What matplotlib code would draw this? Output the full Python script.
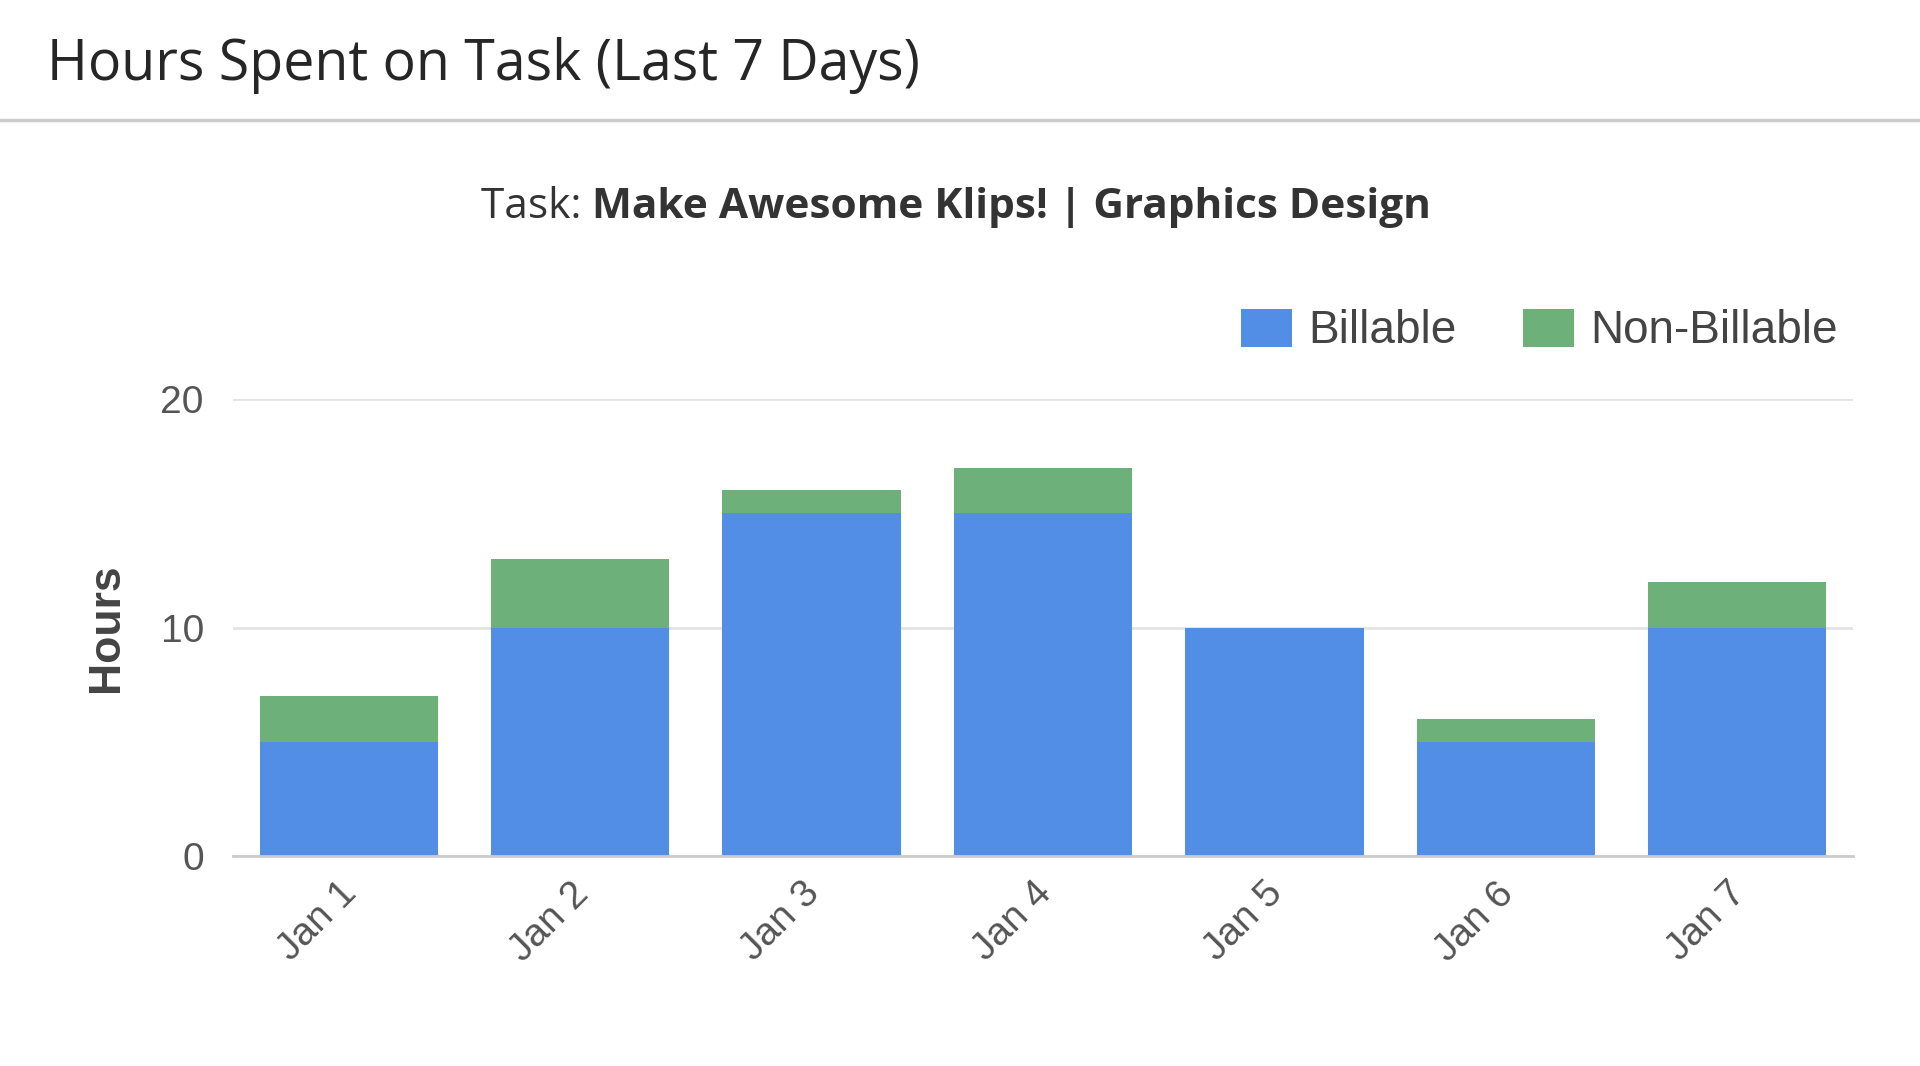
import matplotlib
matplotlib.use("Agg")
import matplotlib.pyplot as plt
from matplotlib.patches import Patch
from matplotlib.lines import Line2D
from matplotlib.transforms import ScaledTranslation
import numpy as np

days = ["Jan 1", "Jan 2", "Jan 3", "Jan 4", "Jan 5", "Jan 6", "Jan 7"]
billable = [5, 10, 15, 15, 10, 5, 10]
non_billable = [2, 3, 1, 2, 0, 1, 2]
y_ticks = [0, 10, 20]

BLUE = "#528ee5"
GREEN = "#6eb07a"

fig = plt.figure(figsize=(19.2, 10.66), dpi=100)
fig.patch.set_facecolor("white")

# Header
fig.text(47 / 1920, 1 - 65 / 1066, "Hours Spent on Task (Last 7 Days)",
         fontsize=40, family="Open Sans", color="#262626", va="center", ha="left")
fig.add_artist(Line2D([0, 1], [1 - 120 / 1066] * 2, color="#cccccc", lw=2.5,
                      transform=fig.transFigure))

# Subtitle (regular + bold)
t1 = fig.text(0.5, 1 - 207 / 1066, "Task: ", fontsize=30.5, family="Open Sans",
              color="#333333", va="center", ha="left")
t2 = fig.text(0.5, 1 - 207 / 1066, "Make Awesome Klips! | Graphics Design", fontsize=30.5,
              family="Open Sans", fontweight="bold", color="#333333", va="center", ha="left")
fig.canvas.draw()
r = fig.canvas.get_renderer()
w1 = t1.get_window_extent(r).width
w2 = t2.get_window_extent(r).width
total = w1 + w2
start = 956 - total / 2
t1.set_x(start / 1920)
t2.set_x((start + w1) / 1920)

ax = fig.add_axes([233 / 1920, 210 / 1066, (1853 - 233) / 1920, (856 - 399) / 1066])
x = np.arange(len(days))
ax.bar(x, billable, width=0.77, color=BLUE, label="Billable", zorder=3)
ax.bar(x, non_billable, width=0.77, bottom=billable, color=GREEN, label="Non-Billable", zorder=3)
ax.set_xlim(-0.5, len(days) - 0.5)
ax.set_ylim(0, 20)
ax.set_yticks(y_ticks)
ax.set_yticklabels([str(v) for v in y_ticks])
ax.grid(axis="y", color="#e3e3e3", lw=2, zorder=0)
for s in ["top", "right", "left"]:
    ax.spines[s].set_visible(False)
ax.spines["bottom"].set_color("#cccccc")
ax.spines["bottom"].set_linewidth(2)
ax.spines["bottom"].set_zorder(4)
ax.tick_params(axis="both", length=0, colors="#555555", labelsize=28)
ax.tick_params(axis="y", pad=21)
for lbl in ax.get_yticklabels():
    lbl.set_family("Liberation Sans")
ax.set_xticks(x)
ax.set_xticklabels(days, rotation=45, ha="right", va="top", rotation_mode="anchor",
                   family="Liberation Sans", fontsize=28, color="#555555")
ax.tick_params(axis="x", pad=14)
shift = ScaledTranslation(-10 / 100, 0, fig.dpi_scale_trans)
for lbl in ax.get_xticklabels():
    lbl.set_transform(lbl.get_transform() + shift)
ax.set_ylabel("Hours", fontsize=32, fontweight="bold", family="Liberation Sans",
              color="#444444", labelpad=24)

handles = [Patch(facecolor=BLUE, edgecolor="none"), Patch(facecolor=GREEN, edgecolor="none")]
fig.legend(handles, ["Billable", "Non-Billable"], loc="center right",
           bbox_to_anchor=(1838 / 1920, 1 - 331 / 1066), ncol=2, frameon=False,
           prop={"family": "Liberation Sans", "size": 33}, labelcolor="#444444",
           handlelength=1.12, handleheight=0.9, handletextpad=0.35,
           columnspacing=1.45, borderpad=0, borderaxespad=0)

fig.savefig("out.png", dpi=100, facecolor="white")
